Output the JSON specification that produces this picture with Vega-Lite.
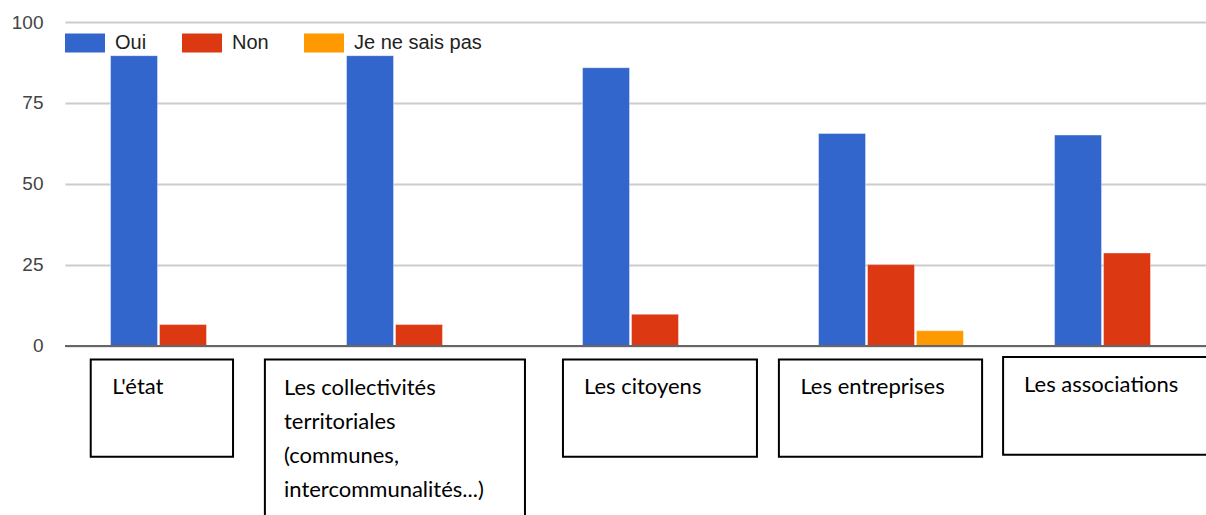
{
  "$schema": "https://vega.github.io/schema/vega-lite/v6.json",
  "width": 1141,
  "height": 493,
  "autosize": {"type": "none"},
  "padding": {"left": 65, "top": 22, "right": 0, "bottom": 0},
  "background": "white",
  "config": {"view": {"stroke": null}, "font": "Liberation Sans"},
  "datasets": {
    "responses": [
      {"cat": "L'état", "answer": "Oui", "value": 89.6},
      {"cat": "L'état", "answer": "Non", "value": 6.6},
      {"cat": "Les collectivités territoriales (communes, intercommunalités...)", "answer": "Oui", "value": 89.6},
      {"cat": "Les collectivités territoriales (communes, intercommunalités...)", "answer": "Non", "value": 6.6},
      {"cat": "Les citoyens", "answer": "Oui", "value": 85.9},
      {"cat": "Les citoyens", "answer": "Non", "value": 9.8},
      {"cat": "Les entreprises", "answer": "Oui", "value": 65.6},
      {"cat": "Les entreprises", "answer": "Non", "value": 25.1},
      {"cat": "Les entreprises", "answer": "Je ne sais pas", "value": 4.7},
      {"cat": "Les associations", "answer": "Oui", "value": 65.1},
      {"cat": "Les associations", "answer": "Non", "value": 28.7}
    ],
    "labels": [
      {"cat": "L'état", "text": ["L'état"]},
      {"cat": "Les collectivités territoriales (communes, intercommunalités...)", "text": ["Les collectivités", "territoriales", "(communes,", "intercommunalités...)"]},
      {"cat": "Les citoyens", "text": ["Les citoyens"]},
      {"cat": "Les entreprises", "text": ["Les entreprises"]},
      {"cat": "Les associations", "text": ["Les associations"]}
    ]
  },
  "layer": [
    {
      "data": {"name": "responses"},
      "mark": {"type": "bar", "stroke": "white", "strokeOpacity": 0.4, "strokeWidth": 1},
      "encoding": {
        "x": {
          "field": "cat", "type": "nominal",
          "sort": ["L'état", "Les collectivités territoriales (communes, intercommunalités...)", "Les citoyens", "Les entreprises", "Les associations"],
          "scale": {"domain": ["L'état", "Les collectivités territoriales (communes, intercommunalités...)", "Les citoyens", "Les entreprises", "Les associations"], "range": [0, 1180], "paddingInner": 0, "paddingOuter": 0},
          "axis": null
        },
        "xOffset": {
          "field": "answer", "type": "nominal",
          "scale": {"domain": ["Oui", "Non", "Je ne sais pas"], "paddingInner": 0.04, "paddingOuter": 0.93}
        },
        "y": {
          "field": "value", "type": "quantitative",
          "scale": {"domain": [-52.2, 100], "nice": false, "zero": false},
          "axis": {
            "title": null, "values": [0, 25, 50, 75, 100], "grid": true, "gridColor": "#cccccc", "gridWidth": 2,
            "domain": false, "ticks": false, "labelPadding": 22, "labelFontSize": 19, "labelColor": "#444444",
            "labelFont": "Liberation Sans"
          }
        },
        "y2": {"datum": 0},
        "color": {
          "field": "answer", "type": "nominal",
          "scale": {"domain": ["Oui", "Non", "Je ne sais pas"], "range": ["#3366cc", "#dc3912", "#ff9900"]},
          "legend": {
            "title": null, "orient": "none", "legendX": 0, "legendY": 1, "direction": "horizontal",
            "symbolType": "M-1,-0.475H1V0.475H-1Z", "symbolSize": 1600, "symbolStrokeWidth": 0, "symbolOpacity": 1,
            "labelFontSize": 20, "labelFont": "Liberation Sans", "labelColor": "#222222",
            "labelOffset": 10, "columnPadding": 35, "padding": 0
          }
        }
      }
    },
    {
      "data": {"values": [{}]},
      "mark": {"type": "rule", "color": "#666666", "strokeWidth": 2},
      "encoding": {"y": {"datum": 0}}
    },
    {
      "data": {"name": "labels"},
      "transform": [{"filter": "datum.cat === \"L'état\""}],
      "layer": [
        {"mark": {"type": "rect", "fill": "white", "stroke": "black", "strokeWidth": 2},
         "encoding": {"x": {"field": "cat", "type": "nominal", "bandPosition": 0.109}, "x2": {"field": "cat", "bandPosition": 0.712}, "y": {"datum": -4.2}, "y2": {"datum": -34.2}}},
        {"mark": {"type": "text", "align": "left", "baseline": "alphabetic", "font": "Lato", "fontSize": 22, "lineHeight": 34, "color": "black"},
         "encoding": {"x": {"field": "cat", "type": "nominal", "bandPosition": 0.2}, "y": {"datum": -14.7}, "text": {"field": "text"}}}
      ]
    },
    {
      "data": {"name": "labels"},
      "transform": [{"filter": "datum.cat === 'Les collectivités territoriales (communes, intercommunalités...)'"}],
      "layer": [
        {"mark": {"type": "rect", "fill": "white", "stroke": "black", "strokeWidth": 2},
         "encoding": {"x": {"field": "cat", "type": "nominal", "bandPosition": -0.153}, "x2": {"field": "cat", "bandPosition": 0.949}, "y": {"datum": -4.2}, "y2": {"datum": -56}}},
        {"mark": {"type": "text", "align": "left", "baseline": "alphabetic", "font": "Lato", "fontSize": 22, "lineHeight": 34, "color": "black"},
         "encoding": {"x": {"field": "cat", "type": "nominal", "bandPosition": -0.072}, "y": {"datum": -15.3}, "text": {"field": "text"}}}
      ]
    },
    {
      "data": {"name": "labels"},
      "transform": [{"filter": "datum.cat === 'Les citoyens'"}],
      "layer": [
        {"mark": {"type": "rect", "fill": "white", "stroke": "black", "strokeWidth": 2},
         "encoding": {"x": {"field": "cat", "type": "nominal", "bandPosition": 0.11}, "x2": {"field": "cat", "bandPosition": 0.932}, "y": {"datum": -4.2}, "y2": {"datum": -34.2}}},
        {"mark": {"type": "text", "align": "left", "baseline": "alphabetic", "font": "Lato", "fontSize": 22, "lineHeight": 34, "color": "black"},
         "encoding": {"x": {"field": "cat", "type": "nominal", "bandPosition": 0.199}, "y": {"datum": -14.7}, "text": {"field": "text"}}}
      ]
    },
    {
      "data": {"name": "labels"},
      "transform": [{"filter": "datum.cat === 'Les entreprises'"}],
      "layer": [
        {"mark": {"type": "rect", "fill": "white", "stroke": "black", "strokeWidth": 2},
         "encoding": {"x": {"field": "cat", "type": "nominal", "bandPosition": 0.025}, "x2": {"field": "cat", "bandPosition": 0.886}, "y": {"datum": -4.2}, "y2": {"datum": -34.2}}},
        {"mark": {"type": "text", "align": "left", "baseline": "alphabetic", "font": "Lato", "fontSize": 22, "lineHeight": 34, "color": "black"},
         "encoding": {"x": {"field": "cat", "type": "nominal", "bandPosition": 0.116}, "y": {"datum": -14.7}, "text": {"field": "text"}}}
      ]
    },
    {
      "data": {"name": "labels"},
      "transform": [{"filter": "datum.cat === 'Les associations'"}],
      "layer": [
        {"mark": {"type": "rect", "fill": "white", "stroke": "black", "strokeWidth": 2},
         "encoding": {"x": {"field": "cat", "type": "nominal", "bandPosition": -0.025}, "x2": {"field": "cat", "bandPosition": 0.95}, "y": {"datum": -3.4}, "y2": {"datum": -33.6}}},
        {"mark": {"type": "text", "align": "left", "baseline": "alphabetic", "font": "Lato", "fontSize": 22, "lineHeight": 34, "color": "black"},
         "encoding": {"x": {"field": "cat", "type": "nominal", "bandPosition": 0.064}, "y": {"datum": -14.1}, "text": {"field": "text"}}}
      ]
    }
  ]
}
